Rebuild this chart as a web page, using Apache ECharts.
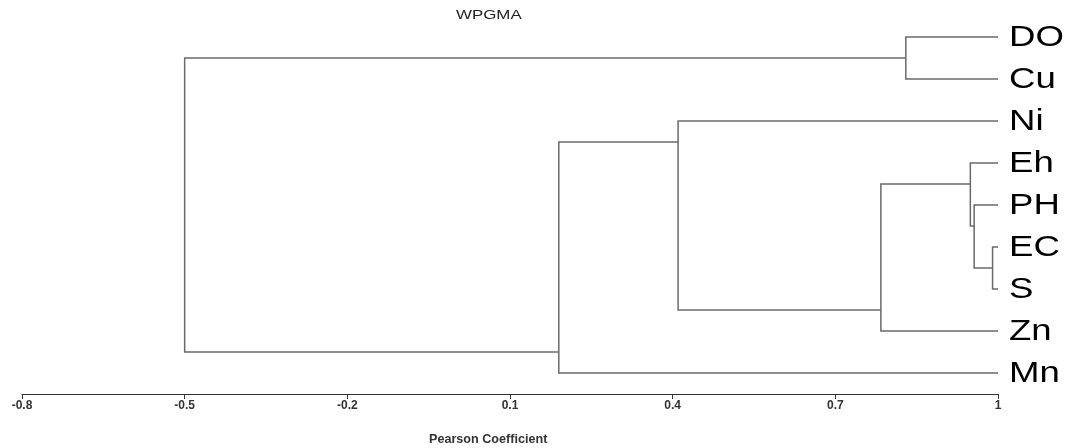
<!DOCTYPE html>
<html>
<head>
<meta charset="utf-8">
<script src="https://cdn.jsdelivr.net/npm/echarts@6/dist/echarts.min.js"></script>
<style>html,body{margin:0;padding:0;background:#fff}#c{width:1071px;height:448px}</style>
</head>
<body>
<div id="c"></div>
<script>
// Leaves in display order (top to bottom)
const leaves = ['DO', 'Cu', 'Ni', 'Eh', 'PH', 'EC', 'S', 'Zn', 'Mn'];
// Merge steps: negative = leaf (1-based index), positive = earlier merge step (1-based)
const mergeLeft  = [-1, -6, -5, -4,  4, -3,  6, 1];
const mergeRight = [-2, -7,  2,  3, -8,  5, -9, 7];
// Pearson coefficient at which each merge happens
const mergeCoef  = [0.83, 0.99, 0.956, 0.949, 0.784, 0.41, 0.19, -0.50];
const leafCoef = 1;
// Axis ticks
const xMin = -0.8, xMax = 1, xStep = 0.3;
const title = 'WPGMA';
const xName = 'Pearson Coefficient';

// Build node geometry from the merge table
const nodes = [];
function info(ref) {
  if (ref < 0) { const i = -ref - 1; return {x: leafCoef, y: i, first: i, last: i}; }
  return nodes[ref - 1];
}
const segs = [];
for (let k = 0; k < mergeCoef.length; k++) {
  const a = info(mergeLeft[k]), b = info(mergeRight[k]);
  const node = {x: mergeCoef[k], y: (a.last + b.first) / 2, first: a.first, last: b.last};
  nodes.push(node);
  segs.push([node.x, a.x, a.y, b.x, b.y]);
}

const chart = echarts.init(document.getElementById('c'));
chart.setOption({
  animation: false,
  backgroundColor: '#fff',
  grid: {left: 22, right: 73, top: 16, bottom: 54},
  xAxis: {
    type: 'value', position: 'bottom', min: xMin, max: xMax, interval: xStep,
    splitLine: {show: false},
    axisLine: {show: true, onZero: false, lineStyle: {color: '#333', width: 1}},
    axisTick: {show: true, length: 5, lineStyle: {color: '#333'}},
    axisLabel: {
      fontSize: 12, fontWeight: 'bold', color: '#333', margin: 6,
      fontFamily: 'Liberation Sans, Arial, sans-serif',
      formatter: v => String(Math.round(v * 10) / 10)
    }
  },
  yAxis: {type: 'value', min: -0.5, max: leaves.length - 0.5, inverse: true, show: false},
  graphic: [
    {type: 'text', x: 456, y: 15, scaleX: 1.3,
     style: {text: title, fontSize: 13, fill: '#222', align: 'left', verticalAlign: 'middle',
             fontFamily: 'Liberation Sans, Arial, sans-serif'}},
    {type: 'text', x: 429, y: 440, scaleX: 1.05,
     style: {text: xName, fontSize: 12, fontWeight: 'bold', fill: '#333', align: 'left', verticalAlign: 'middle',
             fontFamily: 'Liberation Sans, Arial, sans-serif'}}
  ],
  series: [
    {
      type: 'custom',
      data: segs,
      renderItem: function (params, api) {
        const nx = api.value(0);
        const p1 = api.coord([api.value(1), api.value(2)]);
        const p2 = api.coord([nx, api.value(2)]);
        const p3 = api.coord([nx, api.value(4)]);
        const p4 = api.coord([api.value(3), api.value(4)]);
        return {
          type: 'polyline',
          shape: {points: [p1, p2, p3, p4]},
          style: {stroke: '#6a6a6a', lineWidth: 1.5, fill: 'none'}
        };
      }
    },
    {
      type: 'custom',
      data: leaves.map((n, i) => [leafCoef, i]),
      renderItem: function (params, api) {
        const p = api.coord([api.value(0), api.value(1)]);
        return {
          type: 'text',
          x: p[0] + 11, y: p[1] + 1, scaleX: 1.22,
          style: {text: leaves[params.dataIndex], fontSize: 30, fill: '#000',
                  align: 'left', verticalAlign: 'middle',
                  fontFamily: 'Liberation Sans, Arial, sans-serif'}
        };
      }
    }
  ]
});
</script>
</body>
</html>
